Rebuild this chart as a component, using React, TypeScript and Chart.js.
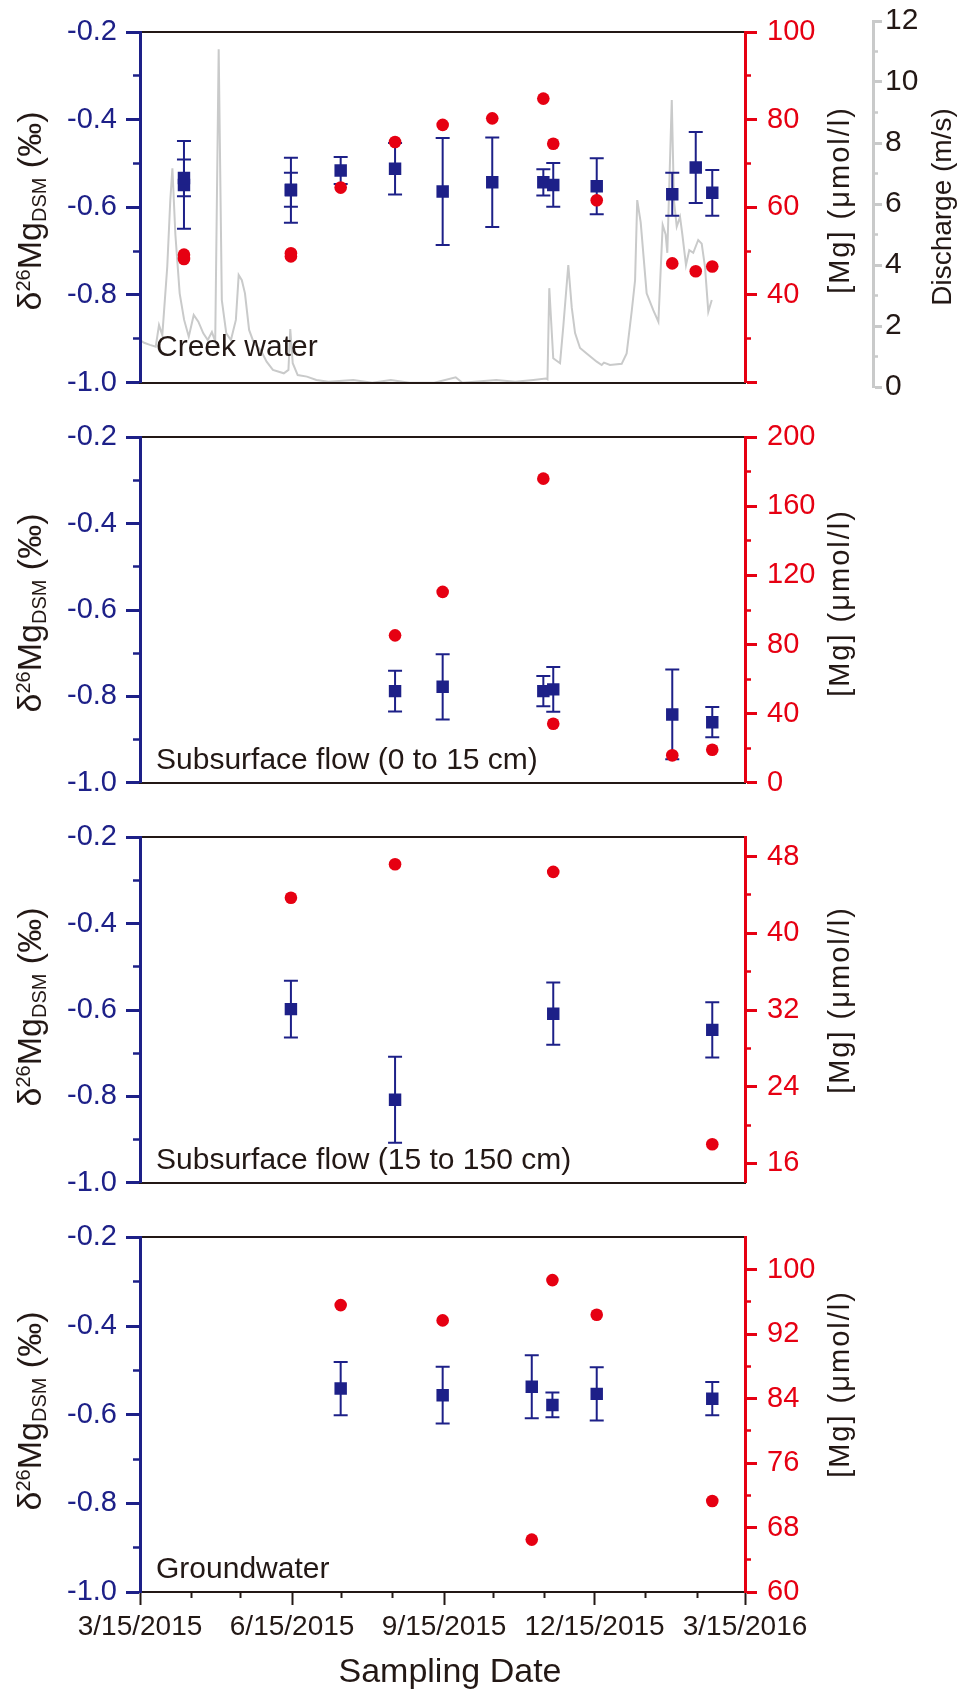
import React, { useEffect, useRef } from 'react';
import { Chart, registerables } from 'chart.js';

Chart.register(...registerables);

const FONT = '"Liberation Sans", Arial, Helvetica, sans-serif';
const NAVY = '#1d2088';
const RED = '#e60012';
const GRAY = '#c9caca';
const BLACK = '#231815';

// x axis: days since 3/15/2015
const X_MIN = 0;
const X_MAX = 366;
const dateTickDays = [0, 92, 184, 275, 366];
const dateTickLabels = ['3/15/2015', '6/15/2015', '9/15/2015', '12/15/2015', '3/15/2016'];
const monthTickDays = [31, 61, 122, 153, 214, 245, 306, 337];

const deltaTicks = [-1.0, -0.8, -0.6, -0.4, -0.2];
const deltaMinorTicks = [-0.9, -0.7, -0.5, -0.3];

// Creek water
const creekDays = [26.6, 26.6, 91.3, 91.3, 121.4, 154.3, 183.1, 213.1, 244, 250, 276.3, 322, 336.2, 346.2];
const creekDelta = [-0.549, -0.533, -0.561, -0.560, -0.516, -0.512, -0.564, -0.543, -0.543, -0.549, -0.552, -0.570, -0.509, -0.567];
const creekErr = [0.100, 0.042, 0.074, 0.039, 0.031, 0.059, 0.122, 0.102, 0.030, 0.050, 0.064, 0.049, 0.081, 0.052];
const creekMg = [49.2, 48.2, 49.5, 48.8, 64.5, 74.9, 78.8, 80.3, 84.8, 74.5, 61.6, 47.2, 45.4, 46.5];
const creekMgTicks = [20, 40, 60, 80, 100];
const creekMgTickLabels = ['', '40', '60', '80', '100'];
const creekMgMinorTicks = [30, 50, 70, 90];

// Discharge (m/s)
const dischargeDays = [0, 2.5, 6, 9.5, 11.5, 13.5, 16.5, 18.3, 19.6, 21.4, 24, 26.7, 29.5, 32.5, 35.3, 38.3, 41, 43.5, 45.5, 47.6, 49.5, 52.2, 55, 58, 59.7, 61.6, 63.5, 66, 69, 73, 76.6, 80.4, 84, 87, 89.8, 90.9, 92.4, 95.4, 101, 106.7, 114, 129, 140.5, 151.7, 163, 178, 191, 195, 215.5, 227, 238, 245.5, 246.5, 247.6, 250, 254.1, 256.1, 259.1, 261.2, 263.2, 266.2, 270.2, 276.3, 279.3, 280.7, 284.3, 291.4, 294.4, 297.5, 299.5, 300.8, 302.9, 306.5, 310.5, 313.6, 316.2, 318, 319, 321.7, 323, 324.7, 326.7, 328.1, 330.3, 332.3, 334.7, 337.7, 339.8, 341.8, 343.8, 345.9];
const dischargeValues = [1.54, 1.45, 1.38, 1.32, 2.03, 1.7, 3.95, 6.1, 7.17, 5.0, 3.07, 2.2, 1.65, 2.36, 2.14, 1.76, 1.54, 1.8, 1.5, 11.07, 2.85, 1.76, 1.54, 2.2, 3.67, 3.5, 3.07, 1.87, 1.43, 1.21, 0.83, 0.56, 0.5, 0.45, 0.56, 1.9, 0.78, 0.39, 0.34, 0.23, 0.17, 0.23, 0.14, 0.23, 0.14, 0.14, 0.32, 0.14, 0.23, 0.17, 0.23, 0.28, 0.25, 3.24, 0.94, 0.78, 2.0, 4.0, 2.6, 1.77, 1.28, 1.1, 0.83, 0.72, 0.8, 0.72, 0.76, 1.1, 2.5, 3.5, 6.13, 5.4, 3.07, 2.52, 2.14, 5.31, 5.0, 4.4, 9.41, 6.13, 5.26, 5.58, 5.0, 4.0, 4.49, 4.4, 4.82, 4.7, 3.94, 2.47, 2.85];
const dischargeTicks = [0, 2, 4, 6, 8, 10, 12];
const dischargeMinorTicks = [1, 3, 5, 7, 9, 11];

// Subsurface flow (0 to 15 cm)
const sub15Days = [154.3, 183.1, 244, 250, 322, 346.2];
const sub15Delta = [-0.788, -0.778, -0.788, -0.784, -0.842, -0.860];
const sub15Err = [0.047, 0.0755, 0.035, 0.052, 0.104, 0.035];
const sub15Mg = [85.3, 110.5, 176.1, 34.1, 15.8, 19.0];
const sub15MgTicks = [0, 40, 80, 120, 160, 200];
const sub15MgMinorTicks = [20, 60, 100, 140, 180];

// Subsurface flow (15 to 150 cm)
const sub150Days = [91.3, 154.3, 250, 346.2];
const sub150Delta = [-0.598, -0.808, -0.6085, -0.646];
const sub150Err = [0.066, 0.0995, 0.072, 0.064];
const sub150Mg = [43.7, 47.2, 46.4, 18.0];
const sub150MgTicks = [16, 24, 32, 40, 48];
const sub150MgMinorTicks = [20, 28, 36, 44];

// Groundwater
const gwDays = [121.4, 183.1, 237, 249.5, 276.3, 346.2];
const gwDelta = [-0.541, -0.556, -0.537, -0.578, -0.553, -0.564];
const gwErr = [0.060, 0.064, 0.071, 0.028, 0.060, 0.0375];
const gwMg = [95.6, 93.7, 66.5, 98.7, 94.4, 71.3];
const gwMgTicks = [60, 68, 76, 84, 92, 100];
const gwMgMinorTicks = [64, 72, 80, 88, 96];

type Panel = {
  label: string;
  labelLift: number;
  days: number[];
  delta: number[];
  err: number[];
  mg: number[];
  mgMin: number;
  mgMax: number;
  mgTicks: number[];
  mgTickLabels: string[];
  mgMinorTicks: number[];
  top: number;
  height: number;
  padTop: number;
  padBottom: number;
  deltaTitleY: number;
  mgTitleY: number;
  bottomAxis: boolean;
  discharge: boolean;
};

const panels: Panel[] = [
  {
    label: 'Creek water', labelLift: 27, days: creekDays, delta: creekDelta, err: creekErr, mg: creekMg,
    mgMin: 20, mgMax: 100, mgTicks: creekMgTicks, mgTickLabels: creekMgTickLabels, mgMinorTicks: creekMgMinorTicks,
    top: 0, height: 410, padTop: 32, padBottom: 16, deltaTitleY: 211, mgTitleY: 200, bottomAxis: false, discharge: true,
  },
  {
    label: 'Subsurface flow (0 to 15 cm)', labelLift: 14, days: sub15Days, delta: sub15Delta, err: sub15Err, mg: sub15Mg,
    mgMin: 0, mgMax: 200, mgTicks: sub15MgTicks, mgTickLabels: sub15MgTicks.map(String), mgMinorTicks: sub15MgMinorTicks,
    top: 410, height: 400, padTop: 22, padBottom: 16, deltaTitleY: 203, mgTitleY: 193, bottomAxis: false, discharge: false,
  },
  {
    label: 'Subsurface flow (15 to 150 cm)', labelLift: 14, days: sub150Days, delta: sub150Delta, err: sub150Err, mg: sub150Mg,
    mgMin: 14, mgMax: 50, mgTicks: sub150MgTicks, mgTickLabels: sub150MgTicks.map(String), mgMinorTicks: sub150MgMinorTicks,
    top: 810, height: 400, padTop: 18, padBottom: 21, deltaTitleY: 197, mgTitleY: 190, bottomAxis: false, discharge: false,
  },
  {
    label: 'Groundwater', labelLift: 14, days: gwDays, delta: gwDelta, err: gwErr, mg: gwMg,
    mgMin: 60, mgMax: 104, mgTicks: gwMgTicks, mgTickLabels: gwMgTicks.map(String), mgMinorTicks: gwMgMinorTicks,
    top: 1210, height: 480, padTop: 19, padBottom: 0, deltaTitleY: 201, mgTitleY: 174, bottomAxis: true, discharge: false,
  },
];

const errorBarPlugin = {
  id: 'errorBars',
  beforeDatasetDraw(chart: any, args: any) {
    const ds: any = chart.data.datasets[args.index];
    if (!ds.errors) return;
    const xs = chart.scales[ds.xAxisID || 'x'];
    const ys = chart.scales[ds.yAxisID];
    const ctx = chart.ctx;
    ctx.save();
    ctx.strokeStyle = NAVY;
    ctx.lineWidth = 2;
    ds.data.forEach((p: any, i: number) => {
      const e = ds.errors[i];
      const x = xs.getPixelForValue(p.x);
      const y1 = ys.getPixelForValue(p.y + e);
      const y2 = ys.getPixelForValue(p.y - e);
      ctx.beginPath();
      ctx.moveTo(x, y1);
      ctx.lineTo(x, y2);
      ctx.moveTo(x - 7, y1);
      ctx.lineTo(x + 7, y1);
      ctx.moveTo(x - 7, y2);
      ctx.lineTo(x + 7, y2);
      ctx.stroke();
    });
    ctx.restore();
  },
};

type Part = { text: string; size: number; dy?: number; ls?: string };

function drawRotated(ctx: CanvasRenderingContext2D, parts: Part[], cx: number, cy: number, color: string) {
  ctx.save();
  ctx.translate(cx, cy);
  ctx.rotate(-Math.PI / 2);
  ctx.fillStyle = color;
  ctx.textBaseline = 'alphabetic';
  ctx.textAlign = 'left';
  const widths = parts.map((p) => {
    ctx.font = `${p.size}px ${FONT}`;
    (ctx as any).letterSpacing = p.ls || '0px';
    return ctx.measureText(p.text).width;
  });
  const total = widths.reduce((a, b) => a + b, 0);
  let x = -total / 2;
  parts.forEach((p, i) => {
    ctx.font = `${p.size}px ${FONT}`;
    (ctx as any).letterSpacing = p.ls || '0px';
    ctx.fillText(p.text, x, p.dy || 0);
    x += widths[i];
  });
  ctx.restore();
}

const textPlugin = {
  id: 'panelText',
  afterDraw(chart: any, _args: any, opts: any) {
    const ctx: CanvasRenderingContext2D = chart.ctx;
    const area = chart.chartArea;
    ctx.save();
    ctx.fillStyle = BLACK;
    ctx.font = `30px ${FONT}`;
    ctx.textAlign = 'left';
    ctx.textBaseline = 'alphabetic';
    ctx.fillText(opts.label, 156, area.bottom - opts.labelLift);
    ctx.restore();
    drawRotated(ctx, [
      { text: 'δ', size: 34 },
      { text: '26', size: 20, dy: -11 },
      { text: 'Mg', size: 34 },
      { text: 'DSM', size: 20, dy: 5 },
      { text: ' (‰)', size: 34 },
    ], 41, opts.deltaTitleY, BLACK);
    drawRotated(ctx, [{ text: '[Mg] (μmol/l)', size: 29, ls: '2px' }], 849, opts.mgTitleY, BLACK);
    if (opts.discharge) {
      drawRotated(ctx, [{ text: 'Discharge (m/s)', size: 28 }], 951, 207, BLACK);
    }
    if (opts.bottomAxis) {
      ctx.save();
      ctx.fillStyle = BLACK;
      ctx.font = `34px ${FONT}`;
      ctx.textAlign = 'center';
      ctx.textBaseline = 'alphabetic';
      ctx.fillText('Sampling Date', 450, 472);
      ctx.restore();
    }
  },
};

function setTicks(values: number[]) {
  return (s: any) => {
    s.ticks = values.map((v) => ({ value: v }));
  };
}

function mainConfig(p: Panel): any {
  const tickFont = { family: FONT, size: 29 };
  const xFont = { family: FONT, size: 28 };
  const scales: any = {
    x: p.bottomAxis
      ? {
          type: 'linear', position: 'bottom', weight: 1, min: X_MIN, max: X_MAX,
          afterBuildTicks: setTicks(dateTickDays),
          afterFit: (s: any) => { s.height = 98; },
          ticks: {
            autoSkip: false, maxRotation: 0, minRotation: 0, color: BLACK, font: xFont, padding: 5,
            callback: (_v: any, i: number) => dateTickLabels[i],
          },
          grid: { display: true, drawOnChartArea: false, drawTicks: true, tickLength: 13, color: BLACK, tickColor: BLACK, tickWidth: 2 },
          border: { display: true, color: BLACK, width: 2 },
        }
      : {
          type: 'linear', position: 'bottom', min: X_MIN, max: X_MAX,
          afterFit: (s: any) => { s.height = 0; },
          ticks: { display: false },
          grid: { display: false },
          border: { display: true, color: BLACK, width: 2 },
        },
    xTop: {
      type: 'linear', position: 'top', min: X_MIN, max: X_MAX,
      afterFit: (s: any) => { s.height = 0; },
      ticks: { display: false },
      grid: { display: false },
      border: { display: true, color: BLACK, width: 2 },
    },
    y: {
      type: 'linear', position: 'left', weight: 1, min: -1.0, max: -0.2,
      afterBuildTicks: setTicks(deltaTicks),
      afterFit: (s: any) => { s.width = 140; },
      ticks: { autoSkip: false, color: NAVY, font: tickFont, padding: 9, callback: (v: any) => Number(v).toFixed(1) },
      grid: { display: true, drawOnChartArea: false, drawTicks: true, tickLength: 14, color: NAVY, tickColor: NAVY, tickWidth: 3 },
      border: { display: true, color: NAVY, width: 3 },
    },
    yMinor: {
      type: 'linear', position: 'left', weight: 0, min: -1.0, max: -0.2,
      afterBuildTicks: setTicks(deltaMinorTicks),
      afterFit: (s: any) => { s.width = 0; },
      ticks: { display: false },
      grid: { display: true, drawOnChartArea: false, drawTicks: true, tickLength: 7, color: NAVY, tickColor: NAVY, tickWidth: 2.5 },
      border: { display: false },
    },
    mg: {
      type: 'linear', position: 'right', weight: 1, min: p.mgMin, max: p.mgMax,
      afterBuildTicks: setTicks(p.mgTicks),
      afterFit: (s: any) => { s.width = 223; },
      ticks: { autoSkip: false, color: RED, font: tickFont, padding: 10, callback: (_v: any, i: number) => p.mgTickLabels[i] },
      grid: { display: true, drawOnChartArea: false, drawTicks: true, tickLength: 12, color: RED, tickColor: RED, tickWidth: 3 },
      border: { display: true, color: RED, width: 3 },
    },
    mgMinor: {
      type: 'linear', position: 'right', weight: 0, min: p.mgMin, max: p.mgMax,
      afterBuildTicks: setTicks(p.mgMinorTicks),
      afterFit: (s: any) => { s.width = 0; },
      ticks: { display: false },
      grid: { display: true, drawOnChartArea: false, drawTicks: true, tickLength: 6, color: RED, tickColor: RED, tickWidth: 2.5 },
      border: { display: false },
    },
  };
  if (p.bottomAxis) {
    scales.xMinor = {
      type: 'linear', position: 'bottom', weight: 0, min: X_MIN, max: X_MAX,
      afterBuildTicks: setTicks(monthTickDays),
      afterFit: (s: any) => { s.height = 0; },
      ticks: { display: false },
      grid: { display: true, drawOnChartArea: false, drawTicks: true, tickLength: 6, color: BLACK, tickColor: BLACK, tickWidth: 2 },
      border: { display: false },
    };
  }
  return {
    type: 'scatter',
    data: {
      datasets: [
        {
          label: '[Mg]',
          data: p.days.map((d, i) => ({ x: d, y: p.mg[i] })),
          xAxisID: 'x', yAxisID: 'mg',
          pointStyle: 'circle', pointRadius: 6.3, pointBackgroundColor: RED, pointBorderWidth: 0,
          showLine: false, order: 0,
        },
        {
          label: 'δ26Mg',
          data: p.days.map((d, i) => ({ x: d, y: p.delta[i] })),
          errors: p.err,
          xAxisID: 'x', yAxisID: 'y',
          pointStyle: 'rect', pointRadius: 8.8, pointBackgroundColor: NAVY, pointBorderWidth: 0,
          showLine: false, order: 1,
        },
      ],
    },
    options: {
      responsive: false,
      animation: false,
      events: [],
      layout: { autoPadding: false, padding: { left: 0, right: 0, top: p.padTop, bottom: p.padBottom } },
      plugins: {
        legend: { display: false },
        tooltip: { enabled: false },
        panelText: {
          label: p.label, labelLift: p.labelLift, deltaTitleY: p.deltaTitleY, mgTitleY: p.mgTitleY,
          discharge: p.discharge, bottomAxis: p.bottomAxis,
        },
      },
      scales,
    },
    plugins: [errorBarPlugin, textPlugin],
  };
}

function dischargeConfig(): any {
  const tickFont = { family: FONT, size: 30 };
  return {
    type: 'line',
    data: {
      datasets: [
        {
          label: 'Discharge',
          data: dischargeDays.map((d, i) => ({ x: d, y: dischargeValues[i] })),
          xAxisID: 'x', yAxisID: 'q',
          borderColor: GRAY, borderWidth: 2, pointRadius: 0, tension: 0, fill: false,
        },
      ],
    },
    options: {
      responsive: false,
      animation: false,
      events: [],
      layout: { autoPadding: false, padding: { left: 140, right: 0, top: 21, bottom: 23 } },
      plugins: { legend: { display: false }, tooltip: { enabled: false } },
      scales: {
        x: { type: 'linear', display: false, min: X_MIN, max: X_MAX },
        pad: {
          type: 'linear', position: 'right', weight: 0, min: 0, max: 1,
          afterFit: (s: any) => { s.width = 128; },
          ticks: { display: false }, grid: { display: false }, border: { display: false },
        },
        qMinor: {
          type: 'linear', position: 'right', weight: 1, min: 0, max: 12,
          afterBuildTicks: setTicks(dischargeMinorTicks),
          afterFit: (s: any) => { s.width = 0; },
          ticks: { display: false },
          grid: { display: true, drawOnChartArea: false, drawTicks: true, tickLength: 5, color: GRAY, tickColor: GRAY, tickWidth: 2.5 },
          border: { display: false },
        },
        q: {
          type: 'linear', position: 'right', weight: 2, min: 0, max: 12,
          afterBuildTicks: setTicks(dischargeTicks),
          afterFit: (s: any) => { s.width = 95; },
          ticks: { autoSkip: false, color: BLACK, font: tickFont, padding: 3, callback: (v: any) => String(v) },
          grid: { display: true, drawOnChartArea: false, drawTicks: true, tickLength: 9, color: GRAY, tickColor: GRAY, tickWidth: 3 },
          border: { display: true, color: GRAY, width: 3 },
        },
      },
    },
  };
}

export default function App() {
  const dischargeRef = useRef<HTMLCanvasElement | null>(null);
  const panelRefs = useRef<(HTMLCanvasElement | null)[]>([]);

  useEffect(() => {
    const charts: Chart[] = [];
    if (dischargeRef.current) charts.push(new Chart(dischargeRef.current, dischargeConfig()));
    panels.forEach((p, i) => {
      const c = panelRefs.current[i];
      if (c) charts.push(new Chart(c, mainConfig(p)));
    });
    return () => charts.forEach((c) => c.destroy());
  }, []);

  return (
    <div style={{ position: 'absolute', left: 0, top: 0, width: 968, height: 1690, background: '#ffffff' }}>
      <canvas ref={dischargeRef} width={968} height={410} style={{ position: 'absolute', left: 0, top: 0 }} />
      {panels.map((p, i) => (
        <canvas
          key={i}
          ref={(el) => { panelRefs.current[i] = el; }}
          width={968}
          height={p.height}
          style={{ position: 'absolute', left: 0, top: p.top }}
        />
      ))}
    </div>
  );
}
